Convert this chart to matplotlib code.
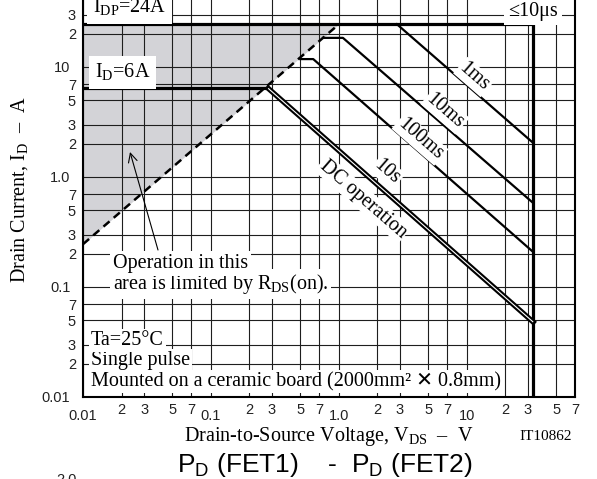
import matplotlib
matplotlib.use('Agg')
import matplotlib.pyplot as plt

plt.rcParams['font.family'] = ['Liberation Serif', 'DejaVu Sans']
plt.rcParams['mathtext.fontset'] = 'custom'
plt.rcParams['mathtext.rm'] = 'Liberation Serif'
plt.rcParams['mathtext.sf'] = 'Liberation Sans'

# values (volts, amps)
v_limit = 33.0
i_dp = 24.5
i_d = 6.4
rds_v = [0.01, 1.0]
rds_i = [0.245, 24.5]
ms1_v = [2.84, 33.0]
ms1_i = [24.5, 2.04]
ms10_v = [0.75, 1.075, 33.0]
ms10_i = [18.4, 18.4, 0.58]
ms100_v = [0.50, 0.63, 33.0]
ms100_i = [11.8, 11.8, 0.208]
dc_flat_v = [0.01, 0.28]
dc_diag_v = [0.28, 33.0]
dc_diag_i = [6.4, 0.048]

xmaj = [0.01, 0.1, 1.0, 10]
xmaj_lab = ['0.01', '0.1', '1.0', '10']
ymaj = [0.01, 0.1, 1.0, 10]
ymaj_lab = ['0.01', '0.1', '1.0', '10']
minor_steps = [2, 3, 5, 7]

W, H = 597, 479
fig = plt.figure(figsize=(W / 100, H / 100), dpi=100)
ax = fig.add_axes([83 / W, 1 - 397 / H, 492 / W, 440 / H])
ax.set_xscale('log')
ax.set_yscale('log')
ax.set_xlim(0.01, 70)
ax.set_ylim(0.01, 100)

xmin = [m * d for d in xmaj for m in minor_steps]
ymin = [m * d for d in ymaj for m in minor_steps if m * d < 40]
ax.set_xticks(xmaj)
ax.set_xticklabels(xmaj_lab)
ax.set_xticks(xmin, minor=True)
ax.set_xticklabels([str(m) for d in xmaj for m in minor_steps], minor=True)
ax.set_yticks(ymaj)
ax.set_yticklabels(ymaj_lab)
ax.set_yticks(ymin, minor=True)
ax.set_yticklabels([str(m) for d in ymaj for m in minor_steps if m * d < 40], minor=True)
for lab in ax.get_xticklabels(which='both') + ax.get_yticklabels(which='both'):
    lab.set_family('Liberation Sans')
ax.tick_params(which='both', length=0, labelsize=10.5, colors='#222222')
ax.tick_params(axis='x', which='major', pad=9)
ax.tick_params(axis='x', which='minor', pad=4)
ax.tick_params(axis='y', which='major', pad=9)
ax.tick_params(axis='y', which='minor', pad=5)
ax.grid(which='both', color='#1e1e1e', lw=0.8)
for s in ax.spines.values():
    s.set_linewidth(1.5)

# RDS(on) limited area
ax.fill_between(rds_v, rds_i, [i_dp, i_dp], color='#d3d3d7', lw=0, zorder=1)
ax.plot(rds_v, rds_i, color='k', lw=1.8, ls=(0, (3.2, 2.2)))

ax.plot([0.01, v_limit, v_limit], [i_dp, i_dp, 0.01], color='k', lw=2.3,
        solid_joinstyle='miter')
ax.plot(dc_flat_v, [i_d, i_d], color='k', lw=2.3)
ax.plot(ms1_v, ms1_i, color='k', lw=1.6)
ax.plot(ms10_v, ms10_i, color='k', lw=1.6)
ax.plot(ms100_v, ms100_i, color='k', lw=1.6)
ax.plot(dc_diag_v, dc_diag_i, color='k', lw=3.8, solid_capstyle='projecting')
ax.plot(dc_diag_v, dc_diag_i, color='w', lw=0.8, solid_capstyle='butt')


def ftext(x, y, s, **kw):
    return fig.text(x / W, 1 - y / H, s, **kw)


fs = 14.5


def wbox(p):
    return dict(facecolor='white', edgecolor='none', pad=p)


ftext(93, 13, r'I$_{\rm DP}$=24A', fontsize=fs, va='baseline', bbox=wbox(4))
ftext(95, 78, r'I$_{\rm D}$=6A', fontsize=fs, va='baseline', bbox=wbox(4))
ftext(508, 16, '≤10μs', fontsize=fs, va='baseline', bbox=wbox(3))

for x, y, s in [(474, 77, '1ms'), (445, 111, '10ms'), (420, 139, '100ms'),
                (387, 172, '10s'), (363, 199, 'DC operation')]:
    ftext(x, y, s, fontsize=fs, rotation=-41, rotation_mode='anchor',
          ha='center', va='center', bbox=wbox(1))

ftext(113, 289, r'area is limited by R$_{\rm DS}$(on).$\ \ \ \ \ \ \ $', fontsize=fs,
      va='baseline', bbox=wbox(2), zorder=3)
ftext(113, 268, r'Operation in this', fontsize=fs, va='baseline', bbox=wbox(2),
      zorder=4)
ax.annotate('', xy=(130 / W, 1 - 152 / H), xytext=(158 / W, 1 - 250 / H),
            xycoords='figure fraction', textcoords='figure fraction',
            arrowprops=dict(arrowstyle='->', lw=0.8, color='k',
                            mutation_scale=16, shrinkA=0, shrinkB=0))

ftext(91, 386, 'Mounted on a ceramic board (2000mm² ✕ 0.8mm)', fontsize=fs,
      va='baseline', bbox=wbox(1.5), zorder=3)
ftext(91, 365, 'Single pulse', fontsize=fs, va='baseline', bbox=wbox(1.5), zorder=4)
ftext(91, 345, 'Ta=25°C', fontsize=fs, va='baseline', bbox=wbox(1.5), zorder=5)

ftext(20, 190, r'Drain Current, I$_{\rm D}$  –  A', fontsize=fs, rotation=90,
      ha='center', va='center')
ftext(329, 437, r'Drain-to-Source Voltage, V$_{\rm DS}$  –  V', fontsize=fs,
      ha='center', va='center')
ftext(546, 437, 'IT10862', fontsize=11, ha='center', va='center')
ftext(325, 472, r'P$_{\mathsf{D}}$ (FET1)    -  P$_{\mathsf{D}}$ (FET2)',
      fontsize=19, family='Liberation Sans', ha='center', va='baseline')
ftext(66, 473, '2.0', fontsize=10.5, family='Liberation Sans', ha='center', va='top',
      color='#222222')

fig.savefig('out.png', dpi=100)
